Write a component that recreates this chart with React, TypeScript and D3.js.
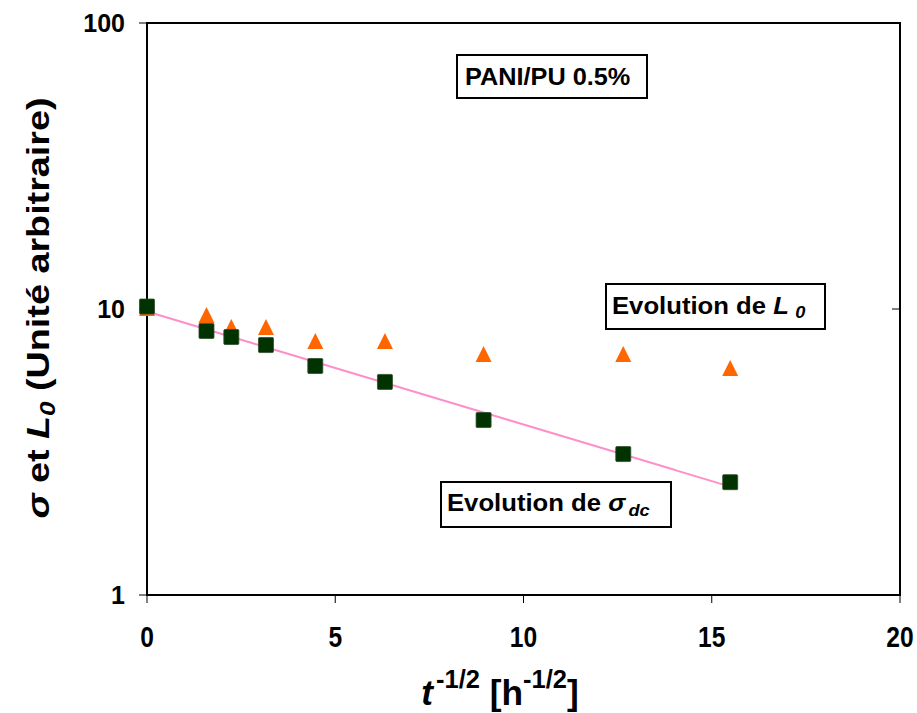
import React from "react";
import * as d3 from "d3";

const xValues = [0, 1.58, 2.24, 3.16, 4.47, 6.32, 8.94, 12.65, 15.49];
const sigmaValues = [10.2, 8.38, 7.98, 7.48, 6.32, 5.56, 4.09, 3.11, 2.48];
const l0Values = [10.0, 9.45, 8.58, 8.58, 7.67, 7.67, 6.9, 6.9, 6.17];
const xTicks = [0, 5, 10, 15, 20];
const yTicks = [1, 10, 100];

const W = 917, H = 713;
const L = 147, R = 900, T = 23, B = 595;
const FONT = "'Liberation Sans', Arial, Helvetica, sans-serif";

export default function App() {
  const x = d3.scaleLinear().domain([0, 20]).range([L, R]);
  const y = d3.scaleLog().domain([1, 100]).range([B, T]);

  // exponential least-squares fit in log space
  const lx = xValues;
  const ly = sigmaValues.map((v) => Math.log(v));
  const mx = d3.mean(lx)!, my = d3.mean(ly)!;
  const slope = d3.sum(lx.map((v, i) => (v - mx) * (ly[i] - my))) / d3.sum(lx.map((v) => (v - mx) ** 2));
  const icpt = my - slope * mx;
  const fitX = d3.range(0, 101).map((i) => (i / 100) * d3.max(xValues)!);
  const line = d3.line<number>().x((d) => x(d)).y((d) => y(Math.exp(icpt + slope * d)));

  const sq = 15;
  const tri = "M0,-9L8,7L-8,7Z";

  return (
    <svg width={W} height={H} style={{ position: "absolute", left: 0, top: 0, background: "#fff" }} fontFamily={FONT}>
      <rect x={0} y={0} width={W} height={H} fill="#fff" />
      {/* frame */}
      <rect x={L} y={T} width={R - L} height={B - T} fill="none" stroke="#000" strokeWidth={2} />
      {/* y ticks */}
      {yTicks.map((t) => (
        <g key={"y" + t}>
          <line x1={L - 8} x2={L} y1={y(t)} y2={y(t)} stroke="#000" strokeWidth={1} />
          <line x1={R - 8} x2={R} y1={y(t)} y2={y(t)} stroke="#000" strokeWidth={1} />
          <text x={L - 22} y={y(t) + 9} textAnchor="end" fontSize={25} fontWeight="bold">
            {t}
          </text>
        </g>
      ))}
      {/* x ticks */}
      {xTicks.map((t) => (
        <g key={"x" + t}>
          <line x1={x(t)} x2={x(t)} y1={B} y2={B + 8} stroke="#000" strokeWidth={1} />
          <text transform={`translate(${x(t)},${647}) scale(0.82,1)`} textAnchor="middle" fontSize={30} fontWeight="bold">
            {t}
          </text>
        </g>
      ))}
      {/* fit line */}
      <path d={line(fitX) || ""} fill="none" stroke="#FF8FC8" strokeWidth={2} />
      {/* L0 triangles */}
      {xValues.map((v, i) => (
        <path key={"t" + i} d={tri} transform={`translate(${x(v)},${y(l0Values[i])})`} fill="#FF6600" />
      ))}
      {/* sigma squares */}
      {xValues.map((v, i) => (
        <rect key={"s" + i} x={x(v) - sq / 2} y={y(sigmaValues[i]) - sq / 2} width={sq} height={sq} fill="#003300" stroke="#2d4d2d" strokeWidth={0.8} rx={1} />
      ))}
      {/* annotation boxes */}
      <rect x={457} y={55} width={190} height={43} fill="#fff" stroke="#000" strokeWidth={2} />
      <text transform="translate(465,85) scale(1.1,1)" fontSize={23} fontWeight="bold">PANI/PU 0.5%</text>

      <rect x={606} y={284} width={219} height={45} fill="#fff" stroke="#000" strokeWidth={2} />
      <text transform="translate(612,314) scale(1.07,1)" fontSize={24} fontWeight="bold">
        Evolution de <tspan fontStyle="italic">L</tspan>
        <tspan fontStyle="italic" fontSize={17} dx={6} dy={4}>0</tspan>
      </text>

      <rect x={441} y={482} width={230} height={45} fill="#fff" stroke="#000" strokeWidth={2} />
      <text transform="translate(447,511) scale(1.07,1)" fontSize={24} fontWeight="bold">
        Evolution de <tspan fontStyle="italic">σ</tspan>
        <tspan fontStyle="italic" fontSize={17} dx={3} dy={5}>dc</tspan>
      </text>

      {/* y title */}
      <text transform="translate(49,308) rotate(-90) scale(1.18,1)" textAnchor="middle" fontSize={32} fontWeight="bold">
        <tspan fontStyle="italic">σ</tspan> et <tspan fontStyle="italic">L</tspan>
        <tspan fontStyle="italic" fontSize={22} dy={6}>0</tspan>
        <tspan dy={-6}>{"  (Unité arbitraire)"}</tspan>
      </text>

      {/* x title */}
      <text transform="translate(500,705) scale(0.98,1)" textAnchor="middle" fontSize={36} fontWeight="bold">
        <tspan fontStyle="italic">t</tspan>
        <tspan fontSize={26} dx={3} dy={-17}>-1/2</tspan>
        <tspan dy={17}>{"  [h"}</tspan>
        <tspan fontSize={26} dy={-17}>-1/2</tspan>
        <tspan dy={17}>]</tspan>
      </text>
    </svg>
  );
}
